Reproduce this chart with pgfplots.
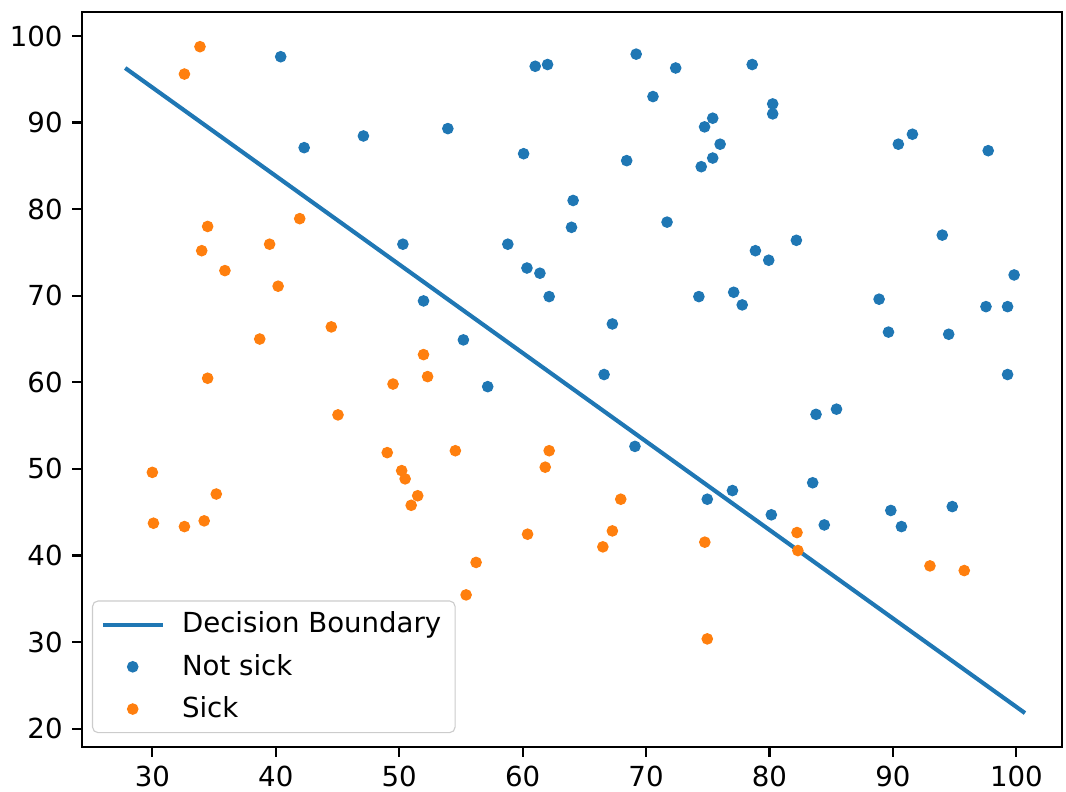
\documentclass[border=0pt]{standalone}
\usepackage{pgfplots}
\pgfplotsset{compat=1.18}
\usepackage{fontspec}
\setmainfont{DejaVu Sans}
\definecolor{c0}{HTML}{1F77B4}
\definecolor{c1}{HTML}{FF7F0E}
\begin{document}
\begin{tikzpicture}
\begin{axis}[
    scale only axis,
    width=355pt, height=266.3pt,
    xmin=24.3, xmax=103.7,
    ymin=17.9, ymax=102.8,
    xtick={30,40,...,100},
    ytick={20,30,...,100},
    tick align=outside,
    major tick length=3.5pt,
    tick style={black, line width=0.8pt},
    axis line style={line width=0.8pt},
    xtick pos=bottom, ytick pos=left,
    font=\fontsize{10}{12}\selectfont,
    /pgf/number format/assume math mode=true,
    legend cell align=left,
    legend image code/.code={
        \draw[mark repeat=2,mark phase=2,fill opacity=1,#1]
        plot coordinates {(0cm,0cm) (0.38cm,0cm) (0.76cm,0cm)};
    },
    legend style={
        at={(0.0102,0.0186)}, anchor=south west,
        draw=black!20, rounded corners=2pt,
        fill=white, fill opacity=0.8, text opacity=1,
        font=\fontsize{10}{12}\selectfont,
        inner xsep=3pt, inner ysep=2pt,
        row sep=2.2pt, column sep=4.3pt,
    },
]
\addlegendimage{c0, line width=1.5pt}
\addlegendentry{Decision Boundary}

\addplot[only marks, mark=*, mark size=1.9pt, c0] coordinates {
    (40.4,97.6) (42.3,87.1) (47.1,88.45) (53.94,89.3) (50.3,75.95)
    (61.02,96.5) (62.02,96.7) (69.2,97.9) (72.4,96.3) (78.6,96.7)
    (70.56,93.0) (75.4,90.5) (74.74,89.5) (76.0,87.5) (75.4,85.9)
    (74.47,84.9) (60.08,86.4) (68.43,85.6) (64.09,81.0) (63.96,77.9)
    (71.7,78.5) (58.8,75.95) (78.86,75.2) (80.26,92.15) (80.26,91.0)
    (90.44,87.5) (91.58,88.65) (97.72,86.75) (94.0,77.0) (82.18,76.4)
    (79.94,74.1) (51.97,69.4) (60.35,73.2) (61.4,72.6) (62.15,69.9)
    (55.2,64.9) (57.17,59.5) (67.27,66.74) (66.6,60.9) (74.28,69.9)
    (77.1,70.4) (77.79,68.94) (69.1,52.6) (74.96,46.5) (77.0,47.5)
    (99.82,72.4) (88.88,69.6) (97.54,68.74) (99.29,68.74) (89.64,65.8)
    (94.52,65.55) (99.29,60.9) (83.77,56.3) (85.43,56.9) (83.5,48.4)
    (80.15,44.7) (89.83,45.2) (94.81,45.65) (84.44,43.53) (90.69,43.34)
};
\addlegendentry{Not sick}

\addplot[only marks, mark=*, mark size=1.9pt, c1] coordinates {
    (33.86,98.76) (32.6,95.6) (34.48,78.0) (41.94,78.9) (39.5,75.95)
    (34.0,75.2) (35.88,72.9) (40.19,71.1) (44.5,66.4) (38.7,65.0)
    (51.97,63.2) (52.3,60.66) (49.5,59.8) (34.48,60.47) (45.04,56.24)
    (49.03,51.88) (50.2,49.8) (50.48,48.85) (30.0,49.6) (51.5,46.9)
    (50.97,45.8) (35.18,47.1) (30.09,43.73) (32.6,43.34) (34.2,44.0)
    (54.55,52.1) (62.15,52.1) (61.83,50.2) (67.95,46.5) (60.4,42.46)
    (67.27,42.84) (66.5,41.0) (74.76,41.54) (56.23,39.2) (55.42,35.45)
    (74.96,30.37) (82.23,42.65) (82.3,40.57) (93.0,38.8) (95.78,38.26)
};
\addlegendentry{Sick}

\addplot[c0, line width=1.5pt, forget plot] coordinates {
    (27.8,96.3) (100.7,21.8)
};
\end{axis}
\pgfresetboundingbox
\path ([xshift=-29.7pt,yshift=-16.05pt]current axis.south west)
    rectangle ([xshift=1.45pt,yshift=4.24pt]current axis.north east);
\end{tikzpicture}
\end{document}
